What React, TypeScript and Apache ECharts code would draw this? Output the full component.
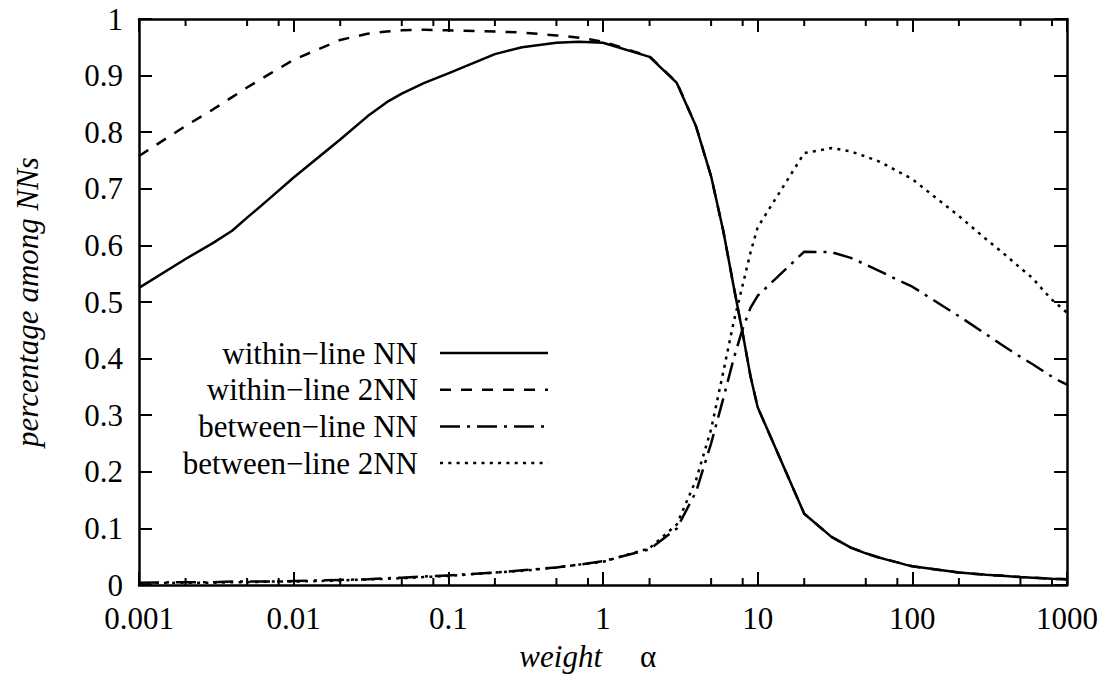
import React, { useEffect, useRef } from 'react';
import * as echarts from 'echarts';

// weight α sample points
const alphaValues = [
  0.001, 0.002, 0.003, 0.004, 0.005, 0.007,
  0.01, 0.02, 0.03, 0.04, 0.05, 0.07,
  0.1, 0.2, 0.3, 0.5, 0.7,
  1, 2, 3, 4, 5, 6, 7, 8, 9,
  10, 20, 30, 40, 50, 60, 70, 80, 90,
  100, 200, 300, 400, 500, 600, 700, 800, 900,
  1000,
];

const withinNN = [
  0.525, 0.576, 0.604, 0.626, 0.649, 0.683,
  0.720, 0.787, 0.828, 0.853, 0.868, 0.887,
  0.904, 0.938, 0.950, 0.958, 0.960,
  0.958, 0.933, 0.887, 0.810, 0.722, 0.625, 0.527, 0.445, 0.368,
  0.314, 0.126, 0.085, 0.066, 0.056, 0.049, 0.044, 0.040, 0.036,
  0.033, 0.022, 0.018, 0.016, 0.014, 0.013, 0.012, 0.011, 0.0105,
  0.010,
];

const within2NN = [
  0.758, 0.811, 0.840, 0.862, 0.879, 0.903,
  0.928, 0.963, 0.974, 0.978, 0.980, 0.981,
  0.980, 0.978, 0.976, 0.971, 0.967,
  0.960, 0.934, 0.888, 0.810, 0.722, 0.625, 0.527, 0.445, 0.368,
  0.314, 0.126, 0.085, 0.066, 0.056, 0.049, 0.044, 0.040, 0.036,
  0.033, 0.022, 0.018, 0.016, 0.014, 0.013, 0.012, 0.011, 0.0105,
  0.010,
];

const betweenNN = [
  0.004, 0.005, 0.005, 0.006, 0.006, 0.006,
  0.007, 0.009, 0.010, 0.012, 0.013, 0.015,
  0.017, 0.022, 0.026, 0.031, 0.036,
  0.042, 0.063, 0.100, 0.165, 0.250, 0.330, 0.400, 0.453, 0.490,
  0.511, 0.589, 0.588, 0.578, 0.566, 0.556, 0.547, 0.539, 0.533,
  0.527, 0.475, 0.443, 0.420, 0.403, 0.390, 0.378, 0.368, 0.360,
  0.354,
];

const between2NN = [
  0.003, 0.004, 0.004, 0.005, 0.005, 0.006,
  0.006, 0.008, 0.010, 0.011, 0.012, 0.014,
  0.016, 0.022, 0.025, 0.031, 0.036,
  0.041, 0.065, 0.107, 0.186, 0.275, 0.377, 0.465, 0.530, 0.588,
  0.632, 0.763, 0.772, 0.766, 0.757, 0.749, 0.740, 0.731, 0.724,
  0.717, 0.652, 0.611, 0.583, 0.560, 0.542, 0.521, 0.504, 0.492,
  0.481,
];

const seriesNames = ['within−line NN', 'within−line 2NN', 'between−line NN', 'between−line 2NN'];
const xTickLabels = ['0.001', '0.01', '0.1', '1', '10', '100', '1000'];
const minorTickValues = [
  0.002, 0.005, 0.008, 0.02, 0.05, 0.08, 0.2, 0.5, 0.8,
  2, 5, 8, 20, 50, 80, 200, 500, 800,
];

const FONT = 'Liberation Serif';
const FS = 31;

const dashes: (number[] | 'solid')[] = ['solid', [11, 10], [20, 7, 3, 7], [3, 5.3]];

export default function App() {
  const ref = useRef<HTMLDivElement>(null);

  useEffect(() => {
    if (!ref.current) return;
    const chart = echarts.init(ref.current, null, { renderer: 'svg' });

    const allSeries = [withinNN, within2NN, betweenNN, between2NN];

    const lineSeries = allSeries.map((arr, i) => ({
      name: seriesNames[i],
      type: 'line',
      xAxisIndex: 0,
      yAxisIndex: 0,
      showSymbol: false,
      symbol: 'none',
      data: alphaValues.map((a, j) => [a, arr[j]]),
      lineStyle: {
        color: '#000',
        width: 2.5,
        type: dashes[i],
        cap: 'butt',
        join: 'round',
      },
      z: 3 + (3 - i),
    }));

    const minorTickSeries = {
      type: 'custom',
      xAxisIndex: 0,
      yAxisIndex: 0,
      silent: true,
      z: 10,
      data: minorTickValues.map((v) => [v, 0]),
      renderItem: (params: any, api: any) => {
        const p = api.coord([api.value(0), 0]);
        const cs = params.coordSys;
        const top = cs.y;
        const bottom = cs.y + cs.height;
        const style = { stroke: '#000', lineWidth: 2 };
        return {
          type: 'group',
          children: [
            { type: 'line', shape: { x1: p[0], y1: bottom, x2: p[0], y2: bottom - 7 }, style },
            { type: 'line', shape: { x1: p[0], y1: top, x2: p[0], y2: top + 7 }, style },
          ],
        };
      },
    };

    const axisLine = { show: true, onZero: false, lineStyle: { color: '#000', width: 2.5 } };
    const axisTick = { show: true, inside: true, length: 13, lineStyle: { color: '#000', width: 2 } };
    const labelStyle = { fontSize: FS, fontFamily: FONT, color: '#000' };

    const xAxisBase = {
      type: 'log',
      logBase: 10,
      min: 0.001,
      max: 1000,
      splitNumber: 6,
      axisLine,
      axisTick,
      splitLine: { show: false },
      minorTick: { show: false },
    };

    const yAxisBase = {
      type: 'value',
      min: 0,
      max: 1,
      interval: 0.1,
      axisLine,
      axisTick,
      splitLine: { show: false },
    };

    const legendTop = 353;
    const legendStep = 36.7;
    const legendGraphics: any[] = [];
    seriesNames.forEach((name, i) => {
      const y = legendTop + i * legendStep;
      legendGraphics.push({
        type: 'text',
        x: 418,
        y,
        style: {
          text: name,
          fontSize: FS,
          fontFamily: FONT,
          fill: '#000',
          align: 'right',
          verticalAlign: 'middle',
        },
      });
      legendGraphics.push({
        type: 'line',
        shape: { x1: 440, y1: y, x2: 548, y2: y },
        style: {
          stroke: '#000',
          lineWidth: 2.5,
          lineDash: dashes[i] === 'solid' ? null : dashes[i],
          lineCap: 'butt',
        },
      });
    });

    chart.setOption({
      animation: false,
      grid: { left: 139, right: 43, top: 19, bottom: 89, containLabel: false },
      xAxis: [
        {
          ...xAxisBase,
          position: 'bottom',
          axisLabel: {
            ...labelStyle,
            margin: 18,
            formatter: (v: number) => xTickLabels[Math.round(Math.log10(v)) + 3] ?? '',
          },
        },
        {
          ...xAxisBase,
          position: 'top',
          axisLabel: { show: false },
        },
      ],
      yAxis: [
        {
          ...yAxisBase,
          position: 'left',
          axisLabel: { ...labelStyle, margin: 16 },
        },
        {
          ...yAxisBase,
          position: 'right',
          axisLabel: { show: false },
        },
      ],
      graphic: [
        {
          type: 'text',
          x: 27,
          y: 302,
          rotation: Math.PI / 2,
          style: {
            text: 'percentage among NNs',
            fontSize: FS,
            fontFamily: FONT,
            fontStyle: 'italic',
            fill: '#000',
            align: 'center',
            verticalAlign: 'middle',
          },
        },
        {
          type: 'text',
          x: 602,
          y: 656,
          style: {
            text: 'weight',
            fontSize: FS,
            fontFamily: FONT,
            fontStyle: 'italic',
            fill: '#000',
            align: 'right',
            verticalAlign: 'middle',
          },
        },
        {
          type: 'text',
          x: 648,
          y: 656,
          style: {
            text: 'α',
            fontSize: FS,
            fontFamily: FONT,
            fill: '#000',
            align: 'center',
            verticalAlign: 'middle',
          },
        },
        ...legendGraphics,
      ],
      series: [...lineSeries, minorTickSeries],
    });

    return () => {
      chart.dispose();
    };
  }, []);

  return (
    <div
      ref={ref}
      style={{ position: 'fixed', left: 0, top: 0, width: 1110, height: 674, background: '#fff' }}
    />
  );
}
